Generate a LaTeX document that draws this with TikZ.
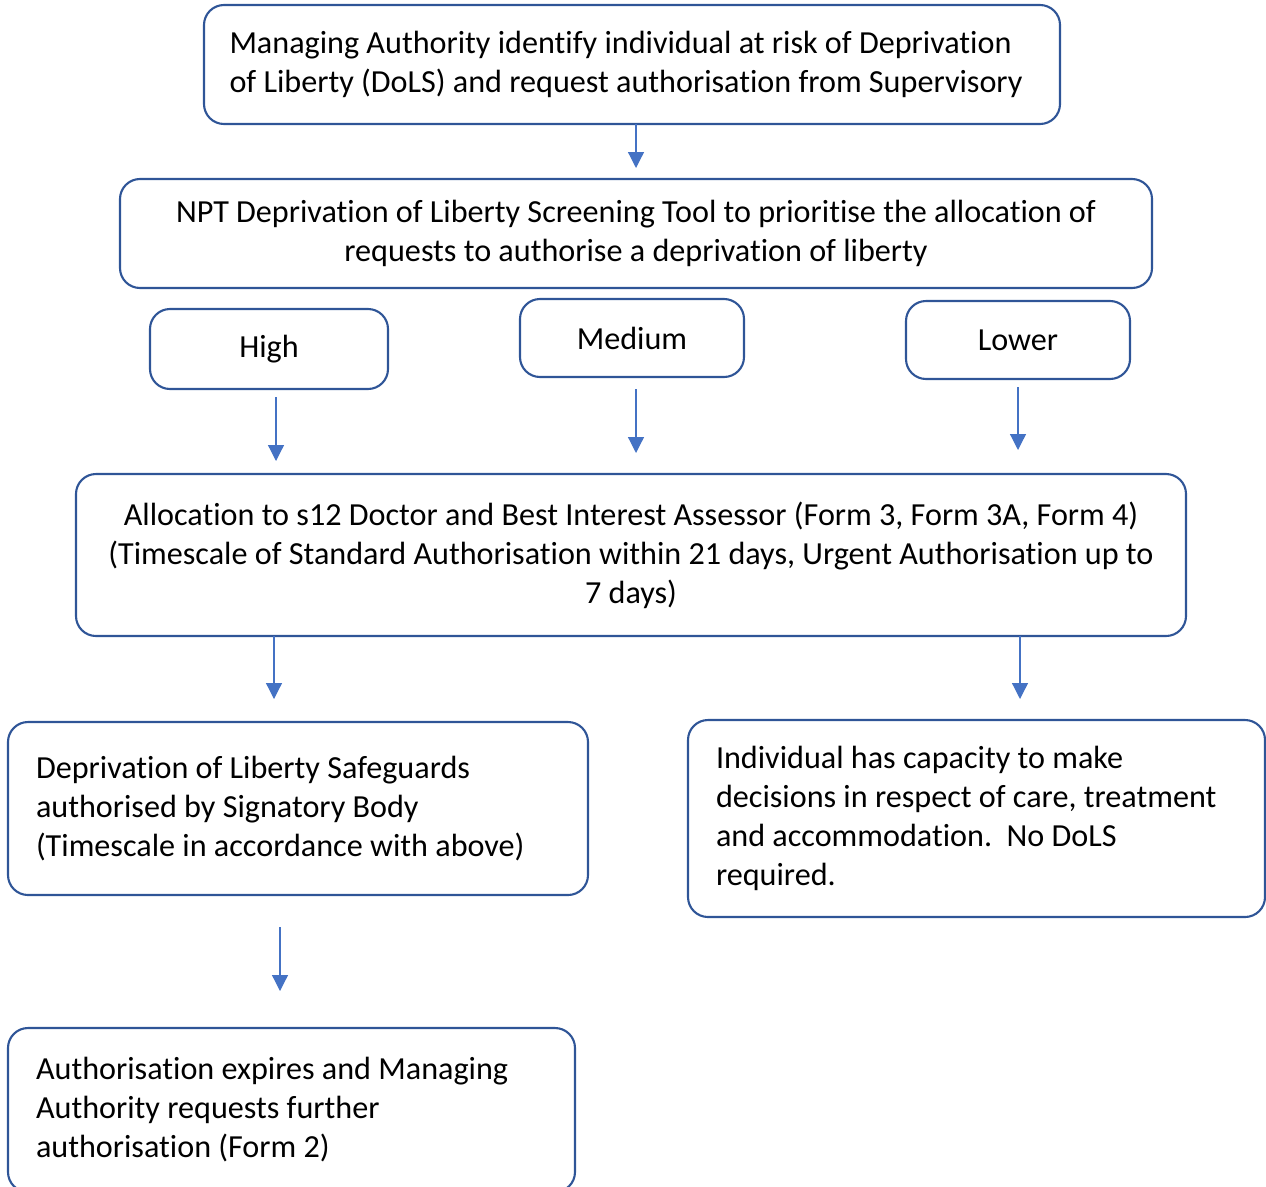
\documentclass[tikz,border=0pt]{standalone}
\usepackage{fontspec}
\setmainfont[Ligatures=NoCommon]{Carlito}
\usepackage{xcolor}
\usepackage{tikz}
\usetikzlibrary{arrows.meta, positioning}
\definecolor{boxblue}{HTML}{2F5597}
\definecolor{arrowblue}{HTML}{4472C4}
\tikzstyle{box} = [draw=boxblue, line width=1.2pt, rounded corners=0.4cm, inner ysep=0pt]
\tikzstyle{arrow} = [draw=arrowblue, line width=0.7pt, -{Triangle[width=0.32cm,length=0.32cm]}]

\begin{document}
\begin{tikzpicture}[
        font=\fontsize{18.3}{22.2}\selectfont,
        lbox/.style={box, align=flush left, inner xsep=0.56cm},
        cbox/.style={box, align=center}
    ]
        \useasboundingbox (0,0) rectangle (25.32,-23.72);
        \clip (0,0) rectangle (25.32,-23.72);

        % Define the boxes from top to bottom
        \node (request) [lbox, inner xsep=0.5cm, minimum width=17.12cm, minimum height=2.38cm, text width=16.1cm] at (12.64,-1.29) {Managing Authority identify individual at risk of Deprivation\\of Liberty (DoLS) and request authorisation from Supervisory};
        \node (screen) [cbox, minimum width=20.64cm, minimum height=2.18cm] at (12.72,-4.67) {NPT Deprivation of Liberty Screening Tool to prioritise the allocation of\\requests to authorise a deprivation of liberty};

        % Priority levels
        \node (high) [cbox, minimum width=4.76cm, minimum height=1.6cm] at (5.38,-6.98) {High};
        \node (medium) [cbox, minimum width=4.48cm, minimum height=1.56cm] at (12.64,-6.76) {Medium};
        \node (lower) [cbox, minimum width=4.48cm, minimum height=1.56cm] at (20.36,-6.80) {Lower};

        \node (alloc) [cbox, minimum width=22.2cm, minimum height=3.24cm] at (12.62,-11.10) {Allocation to s12 Doctor and Best Interest Assessor (Form 3, Form 3A, Form 4)\\(Timescale of Standard Authorisation within 21 days, Urgent Authorisation up to\\7 days)};

        % Outcomes
        \node (dols) [lbox, minimum width=11.6cm, minimum height=3.46cm, text width=10.48cm] at (5.96,-16.17) {Deprivation of Liberty Safeguards\\authorised by Signatory Body\\(Timescale in accordance with above)};
        \node (capacity) [lbox, minimum width=11.54cm, minimum height=3.94cm, text width=10.42cm] at (19.53,-16.37) {Individual has capacity to make\\decisions in respect of care, treatment\\and accommodation.\ \ No DoLS\\required.};
        \node (expires) [lbox, minimum width=11.34cm, minimum height=3.28cm, text width=10.22cm] at (5.83,-22.2) {Authorisation expires and Managing\\Authority requests further\\authorisation (Form 2)};

        % Arrow end points
        \coordinate (a1s) at (12.72,-2.48);  \coordinate (a1e) at (12.72,-3.36);
        \coordinate (a2s) at (5.52,-7.94);   \coordinate (a2e) at (5.52,-9.22);
        \coordinate (a3s) at (12.72,-7.78);  \coordinate (a3e) at (12.72,-9.06);
        \coordinate (a4s) at (20.36,-7.74);  \coordinate (a4e) at (20.36,-9.0);
        \coordinate (a5s) at (5.48,-12.72);  \coordinate (a5e) at (5.48,-13.98);
        \coordinate (a6s) at (20.4,-12.72);  \coordinate (a6e) at (20.4,-13.98);
        \coordinate (a7s) at (5.6,-18.54);   \coordinate (a7e) at (5.6,-19.82);

        % Add arrows
        \draw[arrow] (a1s) -- (a1e);
        \draw[arrow] (a2s) -- (a2e);
        \draw[arrow] (a3s) -- (a3e);
        \draw[arrow] (a4s) -- (a4e);
        \draw[arrow] (a5s) -- (a5e);
        \draw[arrow] (a6s) -- (a6e);
        \draw[arrow] (a7s) -- (a7e);

    \end{tikzpicture}
\end{document}
